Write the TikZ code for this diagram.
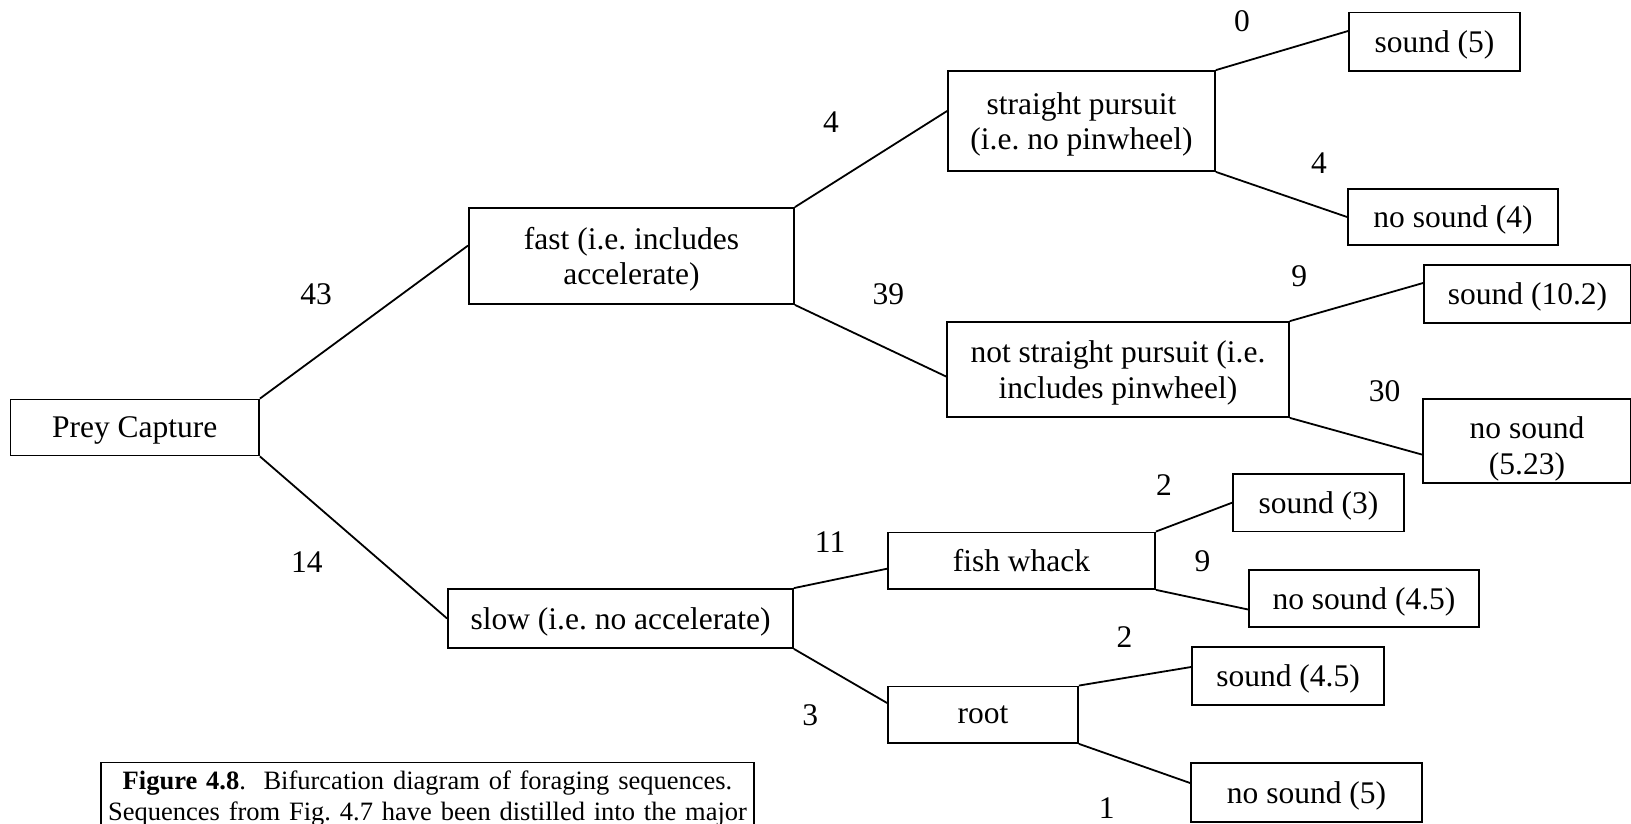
\documentclass[tikz,border=0pt]{standalone}
\usepackage{fontspec}
\setmainfont{Liberation Serif}
\frenchspacing
\newcommand{\mainfnt}{\fontsize{31.5}{35.5}\selectfont}
\newcommand{\capfnt}{\fontsize{26.5}{31}\selectfont}
\begin{document}
\begin{tikzpicture}[x=1pt,y=-1pt,
  box/.style={draw, line width=1.8pt, inner sep=0pt, align=center, font=\mainfnt, text depth=0pt},
  conn/.style={line width=1.8pt},
  lbl/.style={inner sep=0pt, font=\mainfnt}]
\clip (0,0) rectangle (1631,823);
% boxes
\node[box, minimum width=248.6pt, minimum height=56pt] (prey) at (134.7,427.5) {Prey Capture};
\node[box, minimum width=325pt, minimum height=96pt] (fast) at (631.5,256) {fast (i.e. includes\\accelerate)};
\node[box, minimum width=345pt, minimum height=59pt] (slow) at (620.5,618.5) {slow (i.e. no accelerate)};
\node[box, minimum width=267pt, minimum height=100pt] (sp) at (1081.5,121) {straight pursuit\\(i.e. no pinwheel)};
\node[box, minimum width=342pt, minimum height=95pt] (nsp) at (1118,369.5) {not straight pursuit (i.e.\\includes pinwheel)};
\node[box, minimum width=171pt, minimum height=58.5pt] (s5) at (1434.5,41.7) {sound (5)};
\node[box, minimum width=210pt, minimum height=56pt] (ns4) at (1453,217) {no sound (4)};
\node[box, minimum width=207pt, minimum height=58pt] (s102) at (1527.5,294) {sound (10.2)};
\node[box, minimum width=208pt, minimum height=84pt, text height=66pt] (ns523) at (1527,441) {no sound\\(5.23)};
\node[box, minimum width=267pt, minimum height=56.5pt] (fish) at (1021.5,560.7) {fish whack};
\node[box, minimum width=171pt, minimum height=57.5pt] (s3) at (1318.5,502.7) {sound (3)};
\node[box, minimum width=230pt, minimum height=57pt] (ns45) at (1364,598.5) {no sound (4.5)};
\node[box, minimum width=190pt, minimum height=56.5pt] (root) at (983,714.7) {root};
\node[box, minimum width=192pt, minimum height=58pt] (s45) at (1288,676) {sound (4.5)};
\node[box, minimum width=231pt, minimum height=59pt] (ns5) at (1306.5,792.5) {no sound (5)};
% caption
\node[draw, line width=1.8pt, anchor=north, text width=640pt, inner xsep=6.5pt, inner ysep=8pt, align=center, font=\capfnt] (cap) at (427.5,761.5)
  {\textbf{Figure 4.8}.\ \ Bifurcation diagram of foraging sequences.\\Sequences from Fig. 4.7 have been distilled into the major\\};
% connectors
\draw[conn] (prey.north east) -- ([yshift=10.5pt]fast.west);
\draw[conn] (prey.south east) -- (slow.west);
\draw[conn] (fast.north east) -- ([yshift=10pt]sp.west);
\draw[conn] (fast.south east) -- ([yshift=-7pt]nsp.west);
\draw[conn] (sp.north east) -- ([yshift=10.7pt]s5.west);
\draw[conn] (sp.south east) -- (ns4.west);
\draw[conn] (nsp.north east) -- ([yshift=11pt]s102.west);
\draw[conn] (nsp.south east) -- ([yshift=-13.6pt]ns523.west);
\draw[conn] (slow.north east) -- ([yshift=-8pt]fish.west);
\draw[conn] (slow.south east) -- ([yshift=11.7pt]root.west);
\draw[conn] (fish.north east) -- (s3.west);
\draw[conn] (fish.south east) -- ([yshift=-11pt]ns45.west);
\draw[conn] (root.north east) -- ([yshift=9pt]s45.west);
\draw[conn] (root.south east) -- ([yshift=9.5pt]ns5.west);
% labels
\node[lbl] (l43) at (316.2,294.4) {43};
\node[lbl] (l14) at (306.9,561.7) {14};
\node[lbl] (l4a) at (831.1,121.7) {4};
\node[lbl] (l39) at (888.3,294.4) {39};
\node[lbl] (l0) at (1242,20.8) {0};
\node[lbl] (l4b) at (1319,163.3) {4};
\node[lbl] (l9a) at (1299.2,276.7) {9};
\node[lbl] (l30) at (1384.5,391.1) {30};
\node[lbl] (l2a) at (1164,484.7) {2};
\node[lbl] (l9b) at (1202.5,561.7) {9};
\node[lbl] (l11) at (830.1,542) {11};
\node[lbl] (l3) at (810.3,715.7) {3};
\node[lbl] (l2b) at (1124.5,636.6) {2};
\node[lbl] (l1) at (1106.8,808) {1};
\end{tikzpicture}
\end{document}
